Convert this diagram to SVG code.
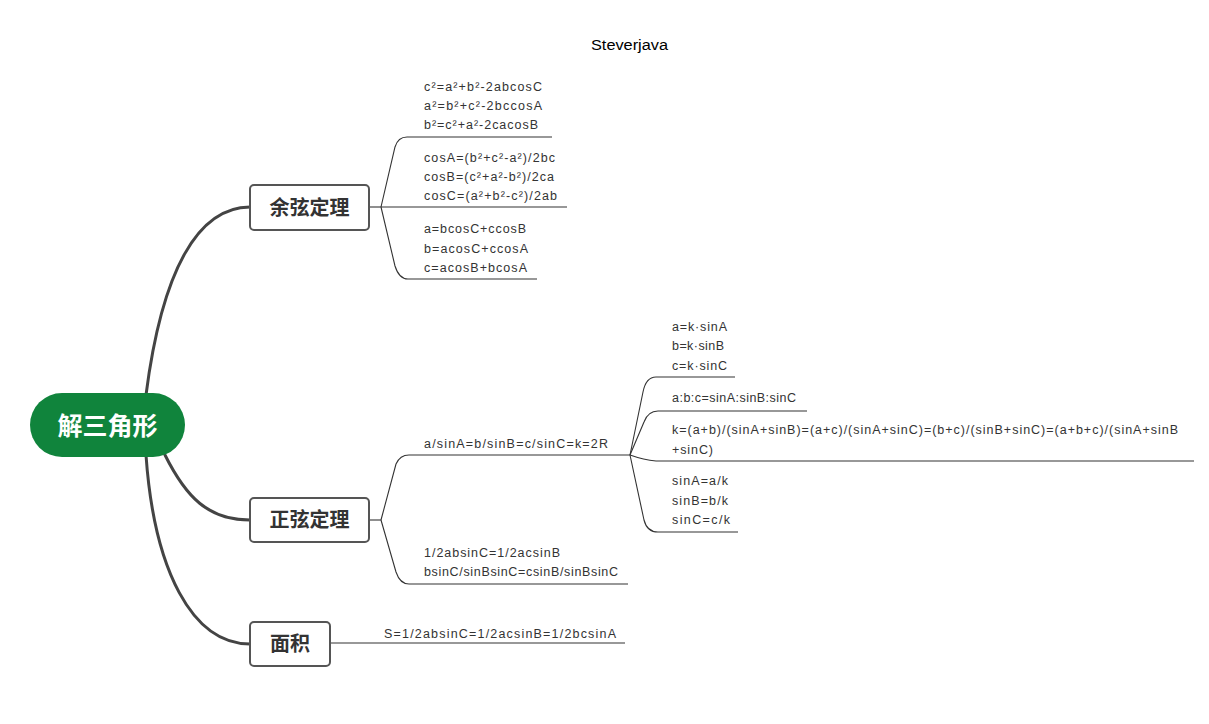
<svg xmlns="http://www.w3.org/2000/svg" width="1209" height="724" viewBox="0 0 1209 724">
<style>
.bg{fill:#ffffff}
.main{fill:none;stroke:#444444;stroke-width:3;stroke-linecap:round}
.sub{fill:none;stroke:#333333;stroke-width:1.1}
.node{fill:#ffffff;stroke:#555555;stroke-width:2}
.root{fill:#10843c}
.ntext{font-family:"Noto Sans CJK SC","Liberation Sans",sans-serif;font-weight:bold;font-size:20px;fill:#333333;text-anchor:middle}
.rtext{font-family:"Noto Sans CJK SC","Liberation Sans",sans-serif;font-weight:bold;font-size:25px;fill:#ffffff;text-anchor:middle}
.f{font-family:"Liberation Sans","Noto Sans CJK SC",sans-serif;font-size:12.5px;fill:#333333}
.title{font-family:"Liberation Sans",Arial,sans-serif;font-size:15.5px;fill:#000000}
</style>
<rect class="bg" x="0" y="0" width="1209" height="724"/>
<text class="title" x="591" y="50" textLength="77" lengthAdjust="spacingAndGlyphs">Steverjava</text>
<g id="connectors">
<path class="main" d="M146 395 C 162 270, 198 207, 250 207"/>
<path class="main" d="M165 455 C 186 497, 208 520, 250 520"/>
<path class="main" d="M146 455 C 154 570, 192 644, 250 644"/>
<path class="sub" d="M369 207 H381"/>
<path class="sub" d="M381 207 L395 147 Q398 137 407 137 H552"/>
<path class="sub" d="M381 207 H567"/>
<path class="sub" d="M381 207 L395 266 Q399 279 408 279 H537"/>
<path class="sub" d="M369 520 H381"/>
<path class="sub" d="M381 520 L396 464 Q400 455 409 455 H630"/>
<path class="sub" d="M381 520 L396 572 Q400 584 409 584 H628"/>
<path class="sub" d="M630 455 L643 392 Q646 377 656 377 H735"/>
<path class="sub" d="M630 455 L644 422 Q648 411 658 411 H807"/>
<path class="sub" d="M630 455 Q644 460 656 461 H1194"/>
<path class="sub" d="M630 455 L644 520 Q647 532 658 532 H738"/>
<path class="sub" d="M330 643 H625"/>
</g>
<g id="root">
<rect class="root" x="30" y="393" width="155" height="64" rx="32"/>
<text class="rtext" x="107.5" y="434.5">解三角形</text>
</g>
<g id="cosine">
<rect class="node" x="250" y="185" width="119" height="45" rx="4"/>
<text class="ntext" x="309.5" y="214.5">余弦定理</text>
</g>
<g id="sine">
<rect class="node" x="250" y="498" width="119" height="44" rx="4"/>
<text class="ntext" x="309.5" y="527">正弦定理</text>
</g>
<g id="area">
<rect class="node" x="250" y="622" width="80" height="44" rx="4"/>
<text class="ntext" x="290" y="650.5">面积</text>
</g>
<g id="cos-items">
<text class="f" x="424" y="91" textLength="118" lengthAdjust="spacing">c²=a²+b²-2abcosC</text>
<text class="f" x="424" y="110" textLength="118" lengthAdjust="spacing">a²=b²+c²-2bccosA</text>
<text class="f" x="424" y="129" textLength="114" lengthAdjust="spacing">b²=c²+a²-2cacosB</text>
<text class="f" x="424" y="161.5" textLength="131" lengthAdjust="spacing">cosA=(b²+c²-a²)/2bc</text>
<text class="f" x="424" y="180.5" textLength="130" lengthAdjust="spacing">cosB=(c²+a²-b²)/2ca</text>
<text class="f" x="424" y="199.5" textLength="133" lengthAdjust="spacing">cosC=(a²+b²-c²)/2ab</text>
<text class="f" x="424" y="233" textLength="102" lengthAdjust="spacing">a=bcosC+ccosB</text>
<text class="f" x="424" y="252.5" textLength="104" lengthAdjust="spacing">b=acosC+ccosA</text>
<text class="f" x="424" y="271.5" textLength="103" lengthAdjust="spacing">c=acosB+bcosA</text>
</g>
<g id="sin-items">
<text class="f" x="424" y="447.5" textLength="184" lengthAdjust="spacing">a/sinA=b/sinB=c/sinC=k=2R</text>
<text class="f" x="424" y="557" textLength="136" lengthAdjust="spacing">1/2absinC=1/2acsinB</text>
<text class="f" x="424" y="576" textLength="194" lengthAdjust="spacing">bsinC/sinBsinC=csinB/sinBsinC</text>
<text class="f" x="672" y="331" textLength="55" lengthAdjust="spacing">a=k·sinA</text>
<text class="f" x="672" y="350" textLength="52" lengthAdjust="spacing">b=k·sinB</text>
<text class="f" x="672" y="369.5" textLength="55" lengthAdjust="spacing">c=k·sinC</text>
<text class="f" x="672" y="402" textLength="124" lengthAdjust="spacing">a:b:c=sinA:sinB:sinC</text>
<text class="f" x="672" y="433.5" textLength="506" lengthAdjust="spacing">k=(a+b)/(sinA+sinB)=(a+c)/(sinA+sinC)=(b+c)/(sinB+sinC)=(a+b+c)/(sinA+sinB</text>
<text class="f" x="672" y="453.5" textLength="41" lengthAdjust="spacing">+sinC)</text>
<text class="f" x="672" y="485" textLength="56" lengthAdjust="spacing">sinA=a/k</text>
<text class="f" x="672" y="504.5" textLength="56" lengthAdjust="spacing">sinB=b/k</text>
<text class="f" x="672" y="523.5" textLength="58" lengthAdjust="spacing">sinC=c/k</text>
</g>
<g id="area-items">
<text class="f" x="384" y="637.5" textLength="232" lengthAdjust="spacing">S=1/2absinC=1/2acsinB=1/2bcsinA</text>
</g>
</svg>
